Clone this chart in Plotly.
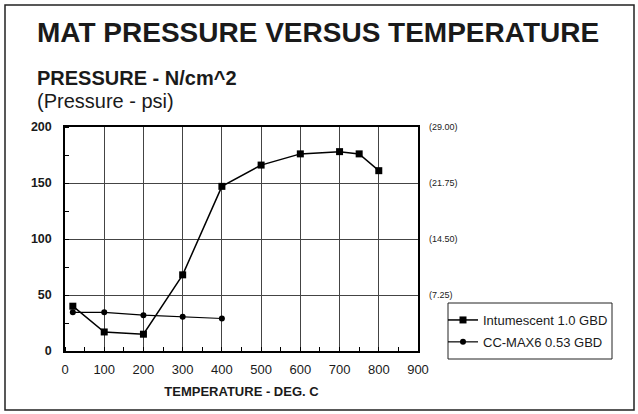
import plotly.graph_objects as go

temps_int = [20, 100, 200, 300, 400, 500, 600, 700, 750, 800]
press_int = [40, 17, 15, 68, 147, 166, 176, 178, 176, 161]
temps_cc = [20, 100, 200, 300, 400]
press_cc = [34.5, 34.5, 32, 30.5, 29]
psi_vals = [50, 100, 150, 200]
psi_labels = ["(7.25)", "(14.50)", "(21.75)", "(29.00)"]
x_ticks = [0, 100, 200, 300, 400, 500, 600, 700, 800, 900]
y_ticks = [0, 50, 100, 150, 200]

FONT = "Liberation Sans, Arial, sans-serif"
L, R, T, B = 65, 220, 127, 63
W, H = 638, 414
pw, ph = W - L - R, H - T - B

fig = go.Figure()
fig.add_trace(go.Scatter(x=temps_int, y=press_int, mode="lines+markers",
                         name="Intumescent 1.0 GBD", legendgroup="a",
                         line=dict(color="black", width=1.5),
                         marker=dict(symbol="square", size=7, color="black")))
fig.add_trace(go.Scatter(x=temps_cc, y=press_cc, mode="lines+markers",
                         name="CC-MAX6 0.53 GBD", legendgroup="b",
                         line=dict(color="black", width=1.2),
                         marker=dict(symbol="circle", size=6, color="black")))

def px_x(p):
    return (p - L) / pw

def px_y(p):
    return (H - B - p) / ph

annotations = [
    dict(text="<b>MAT PRESSURE VERSUS TEMPERATURE</b>", x=px_x(35), y=px_y(32),
         xref="paper", yref="paper", xanchor="left", yanchor="middle",
         showarrow=False, font=dict(family=FONT, size=28, color="#1a1a1a")),
    dict(text="<b>PRESSURE - N/cm^2</b>", x=px_x(35), y=px_y(78),
         xref="paper", yref="paper", xanchor="left", yanchor="middle",
         showarrow=False, font=dict(family=FONT, size=20, color="#1a1a1a")),
    dict(text="(Pressure - psi)", x=px_x(35), y=px_y(101),
         xref="paper", yref="paper", xanchor="left", yanchor="middle",
         showarrow=False, font=dict(family=FONT, size=20, color="#1a1a1a")),
]
for v, t in zip(psi_vals, psi_labels):
    annotations.append(dict(text=t, x=px_x(427), y=v, xref="paper", yref="y",
                            xanchor="left", yanchor="middle", showarrow=False,
                            font=dict(family=FONT, size=9, color="#222")))

fig.update_layout(
    width=W, height=H,
    margin=dict(l=L, r=R, t=T, b=B),
    paper_bgcolor="white", plot_bgcolor="white",
    font=dict(family=FONT, color="#1a1a1a"),
    annotations=annotations,
    shapes=[dict(type="rect", xref="paper", yref="paper",
                 x0=px_x(5), x1=px_x(634), y0=px_y(410), y1=px_y(5),
                 line=dict(color="#222", width=1.5)),
            dict(type="rect", xref="paper", yref="paper",
                 x0=px_x(448), x1=px_x(612), y0=px_y(359), y1=px_y(303),
                 line=dict(color="#222", width=1), layer="above")],
    legend=dict(x=px_x(443), y=px_y(305), xanchor="left", yanchor="top",
                borderwidth=0, bgcolor="rgba(0,0,0,0)",
                font=dict(family=FONT, size=13, color="#1a1a1a"),
                itemwidth=30, tracegroupgap=2),
    xaxis=dict(range=[0, 900], tickvals=x_ticks, showgrid=True,
               gridcolor="#444", gridwidth=1, showline=True, linecolor="black",
               linewidth=1.5, mirror=True, ticks="", zeroline=False,
               tickfont=dict(family=FONT, size=13), ticklabelstandoff=6,
               minor=dict(dtick=50, ticks="inside", ticklen=4, tickcolor="black",
                          showgrid=False),
               title=dict(text="<b>TEMPERATURE - DEG. C</b>", standoff=11,
                          font=dict(family=FONT, size=13))),
    yaxis=dict(range=[0, 200], tickvals=y_ticks, showgrid=True,
               gridcolor="#444", gridwidth=1, showline=True, linecolor="black",
               linewidth=1.5, mirror=True, ticks="", zeroline=False,
               tickfont=dict(family=FONT, size=12.5, weight="bold"),
               ticklabelstandoff=9,
               minor=dict(dtick=25, ticks="inside", ticklen=4, tickcolor="black",
                          showgrid=False)),
)

fig.write_html("out.html", config={"displayModeBar": False},
               post_script="document.body.style.margin='0';")
